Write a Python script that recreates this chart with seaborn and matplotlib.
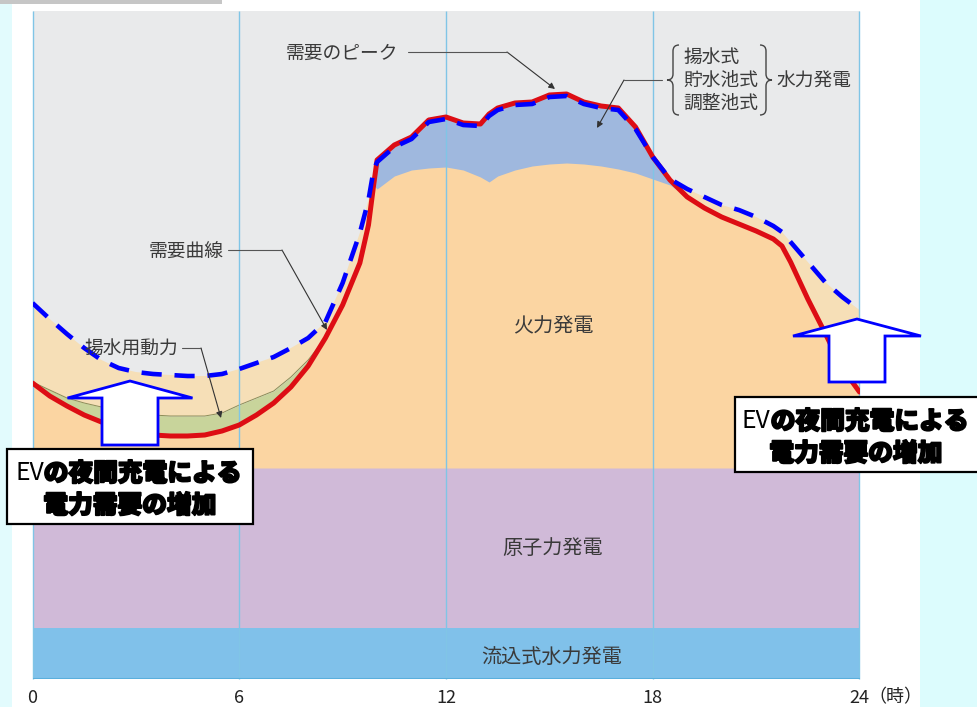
import numpy as np
import pandas as pd
import matplotlib
matplotlib.use("Agg")
import matplotlib.pyplot as plt
import matplotlib.patches as mpatches
import matplotlib.transforms as mtransforms
import matplotlib.patheffects as pe
from matplotlib.lines import Line2D
from matplotlib.text import Annotation
from matplotlib.path import Path
import seaborn as sns

# --- data (y in arbitrary demand units) ---
hours = [0, 0.5, 1, 1.5, 2, 2.5, 3, 3.5, 4, 4.5,
         5, 5.5, 6, 6.5, 7, 7.5, 8, 8.5,
         9, 9.5, 9.75, 9.9, 10, 10.5, 11, 11.5, 12, 12.5,
         13, 13.25, 13.5, 14, 14.5,
         15, 15.5, 16, 16.5, 17, 17.5, 18, 18.5, 19, 19.5,
         20, 20.5, 21, 21.5, 21.75,
         22, 22.5, 23, 23.5, 24]

# 需要曲線 (red)
demand = [296, 283, 273, 264, 257, 251, 247, 244, 243, 243,
          244, 248, 254, 264, 276, 292, 313, 341,
          374, 416, 454, 494, 519, 534, 542, 559, 562, 556,
          555, 565, 571, 576, 577,
          584, 585, 577, 573, 571, 552, 522, 499, 482, 471,
          462, 455, 448, 440, 433,
          417, 380, 346, 311, 287]

# demand incl. EV night charging (blue dashed)
ev_demand = [376, 360, 345, 331, 319, 311, 307, 305, 304, 303,
             303, 305, 310, 316, 322, 331, 341, 357,
             396, 446, 479, 509, 517, 532, 540, 557, 560, 554,
             553, 563, 569, 574, 575,
             582, 583, 575, 571, 569, 550, 522, 500, 490, 482,
             474, 469, 462, 453, 447,
             437, 417, 397, 382, 369]

nan = np.nan
# 揚水用動力 upper edge (night only)
pump_top = [297, 289, 281, 276, 272, 268, 266, 264, 263, 263,
            263, 266, 274, 281, 288, 302, 319, 341,
            nan, nan, nan, nan, nan, nan, nan, nan, nan, nan,
            nan, nan, nan, nan, nan,
            nan, nan, nan, nan, nan, nan, nan, nan, nan, nan,
            nan, nan, nan, nan, nan,
            nan, nan, nan, nan, nan]

# 火力発電 upper edge in the daytime (storage hydro sits above it)
thermal_top = [nan, nan, nan, nan, nan, nan, nan, nan, nan, nan,
               nan, nan, nan, nan, nan, nan, nan, nan,
               nan, nan, nan, 494, 490, 503, 509, 511, 512, 509,
               502, 497, 503, 509, 513,
               515, 516, 515, 513, 510, 506, 500, 494, 482, nan,
               nan, nan, nan, nan, nan,
               nan, nan, nan, nan, nan]

river_top = 51      # 流込式水力発電
nuclear_top = 211   # 原子力発電
y_top = 668

x_ticks = [0, 6, 12, 18, 24]
x_labels = ["0", "6", "12", "18", "24"]

# --- style ---
sns.set_theme(style="white")
plt.rcParams["font.family"] = ["Noto Sans CJK JP", "DejaVu Sans"]

W, H = 977, 707
fig = plt.figure(figsize=(W / 100, H / 100), dpi=100, facecolor="white")
PX = mtransforms.Affine2D().scale(1 / W, -1 / H).translate(0, 1) + fig.transFigure

# page decoration
fig.add_artist(mpatches.Rectangle((0, 0), 12, H, transform=PX, color="#e2fbfd", lw=0, zorder=0))
fig.add_artist(mpatches.Rectangle((920, 0), 57, H, transform=PX, color="#dcfcfd", lw=0, zorder=0))
fig.add_artist(mpatches.Rectangle((0, 0), 222, 4, transform=PX, color="#c6c6c6", lw=0, zorder=0))

ax = fig.add_axes([32.5 / W, (H - 679) / H, 827 / W, 668 / H])
ax.set_facecolor("#e9eaeb")

df = pd.DataFrame({"hour": hours, "demand": demand, "ev": ev_demand,
                   "pump": pump_top, "thermal": thermal_top})
h = df["hour"].to_numpy()
d = df["demand"].to_numpy()
ev = df["ev"].to_numpy()
pump = np.where(np.isnan(df["pump"]), d, df["pump"])
therm = np.where(np.isnan(df["thermal"]), d, df["thermal"])

ax.fill_between(h, 0, river_top, color="#80c1ea", lw=0, zorder=1)
ax.fill_between(h, river_top, nuclear_top, color="#d0bad8", lw=0, zorder=1)
ax.fill_between(h, nuclear_top, d, color="#fbd5a2", lw=0, zorder=1)
ax.fill_between(h, therm, d, where=therm < d, interpolate=True, color="#9fb8de", lw=0, zorder=2)
ax.fill_between(h, d, pump, where=pump > d, interpolate=True, color="#c8d49b", lw=0, zorder=2)
lower = np.maximum(d, pump)
ax.fill_between(h, lower, ev, where=ev > lower, interpolate=True, color="#f6dfb7", lw=0, zorder=2)
night = ~df["pump"].isna()
ax.plot(h[night], pump[night], color="#8c8c55", lw=0.7, zorder=3)

ax.vlines(x_ticks, 0, y_top, color="#80c5e6", lw=1.0, zorder=4, clip_on=False)
ax.axhline(0, color="#5aafdd", lw=1.5, zorder=4)

sns.lineplot(data=df, x="hour", y="demand", ax=ax, color="#dd0d14", lw=3.6, zorder=6)
sns.lineplot(data=df, x="hour", y="ev", ax=ax, color="#0000ff", lw=3.3,
             linestyle=(0, (4.4, 2.8)), zorder=7)

ax.set_xlim(0, 24)
ax.set_ylim(0, y_top)
ax.set_yticks([])
ax.set_xticks(x_ticks, labels=x_labels)
ax.tick_params(axis="x", length=0, pad=7, labelsize=13, labelcolor="#222222")
ax.set_xlabel("")
ax.set_ylabel("")
for s in ax.spines.values():
    s.set_visible(False)
fig.text(868 / W, 1 - 697 / H, "（時）", fontsize=13, color="#222222", ha="left", va="center")

# --- labels and leaders ---
tc = "#3a3a3a"
def label(x, y, s, size=13.5, ha="center"):
    fig.text(x / W, 1 - y / H, s, fontsize=size, color=tc, ha=ha, va="center", zorder=10)

def leader(pts, tip):
    fig.add_artist(Line2D([p[0] for p in pts], [p[1] for p in pts], transform=PX,
                          color="#555555", lw=0.8, zorder=10))
    ax.annotate("", xy=tip, xytext=pts[-1], xycoords=PX, textcoords=PX,
                arrowprops=dict(arrowstyle="-|>", color="#333333", lw=0.8,
                                mutation_scale=9, shrinkA=0, shrinkB=0), zorder=10)

label(342, 53, "需要のピーク")
leader([(408, 52), (507, 52)], (555, 89))
label(224, 252, "需要曲線", ha="right")
leader([(228, 250), (282, 250)], (327, 330))
label(178, 349, "揚水用動力", ha="right")
leader([(182, 348), (201, 348)], (221, 418))
label(683, 57, "揚水式", ha="left")
label(683, 80, "貯水池式", ha="left")
label(683, 103, "調整池式", ha="left")
label(776, 80, "水力発電", ha="left")
leader([(662, 80), (624, 80)], (597, 128))

def brace(xt, y0, y1, w, side):
    s = 1 if side == "left" else -1
    xm, xe = xt + s * w / 2, xt + s * w
    ym = (y0 + y1) / 2
    verts = [(xe, y0), (xm, y0), (xm, y0 + 6), (xm, ym - 6), (xm, ym), (xt, ym),
             (xm, ym), (xm, ym + 6), (xm, y1 - 6), (xm, y1), (xe, y1)]
    codes = [Path.MOVETO, Path.CURVE3, Path.CURVE3, Path.LINETO, Path.CURVE3, Path.CURVE3,
             Path.CURVE3, Path.CURVE3, Path.LINETO, Path.CURVE3, Path.CURVE3]
    fig.add_artist(mpatches.PathPatch(Path(verts, codes), transform=PX, fill=False,
                                      ec="#444444", lw=1.0, zorder=10))

brace(667, 45, 115, 12, "left")
brace(772, 45, 115, 12, "right")

label(553, 327, "火力発電", size=14.5)
label(553, 548, "原子力発電", size=14.5)
label(552, 657, "流込式水力発電", size=14.5)

# --- EV callouts ---
def up_arrow(xc, tip_y, base_y, bottom_y, head_w, shaft_w):
    pts = [(xc, tip_y), (xc + head_w / 2, base_y), (xc + shaft_w / 2, base_y),
           (xc + shaft_w / 2, bottom_y), (xc - shaft_w / 2, bottom_y),
           (xc - shaft_w / 2, base_y), (xc - head_w / 2, base_y)]
    fig.add_artist(mpatches.Polygon(pts, closed=True, transform=PX, fc="white",
                                    ec="#0000ff", lw=2.0, zorder=11))

up_arrow(130, 381, 398, 445, 125, 56)
up_arrow(857, 319, 336, 382, 128, 56)

heavy = [pe.withStroke(linewidth=1.3, foreground="black")]
box_fs = 17.8
def callout(x0, y0, x1, y1, ev_x, base1, base2):
    fig.add_artist(mpatches.Rectangle((x0, y0), x1 - x0, y1 - y0, transform=PX,
                                      fc="white", ec="black", lw=1.6, zorder=12))
    t = fig.text(ev_x / W, 1 - base1 / H, "EV", fontsize=box_fs, color="black",
                 ha="left", va="baseline", zorder=13)
    fig.add_artist(Annotation("の夜間充電による", xy=(1, 0), xycoords=t, fontsize=box_fs,
                              color="black", fontweight="black", ha="left", va="bottom",
                              zorder=13, path_effects=heavy, annotation_clip=False))
    fig.text(((x0 + min(x1, W)) / 2) / W, 1 - base2 / H, "電力需要の増加", fontsize=box_fs,
             color="black", fontweight="black", ha="center", va="baseline",
             zorder=13, path_effects=heavy)

callout(7, 449, 253, 524, 15, 480, 513)
callout(735, 397, 980, 472, 742, 428, 461)

fig.savefig("out.png", dpi=100)
